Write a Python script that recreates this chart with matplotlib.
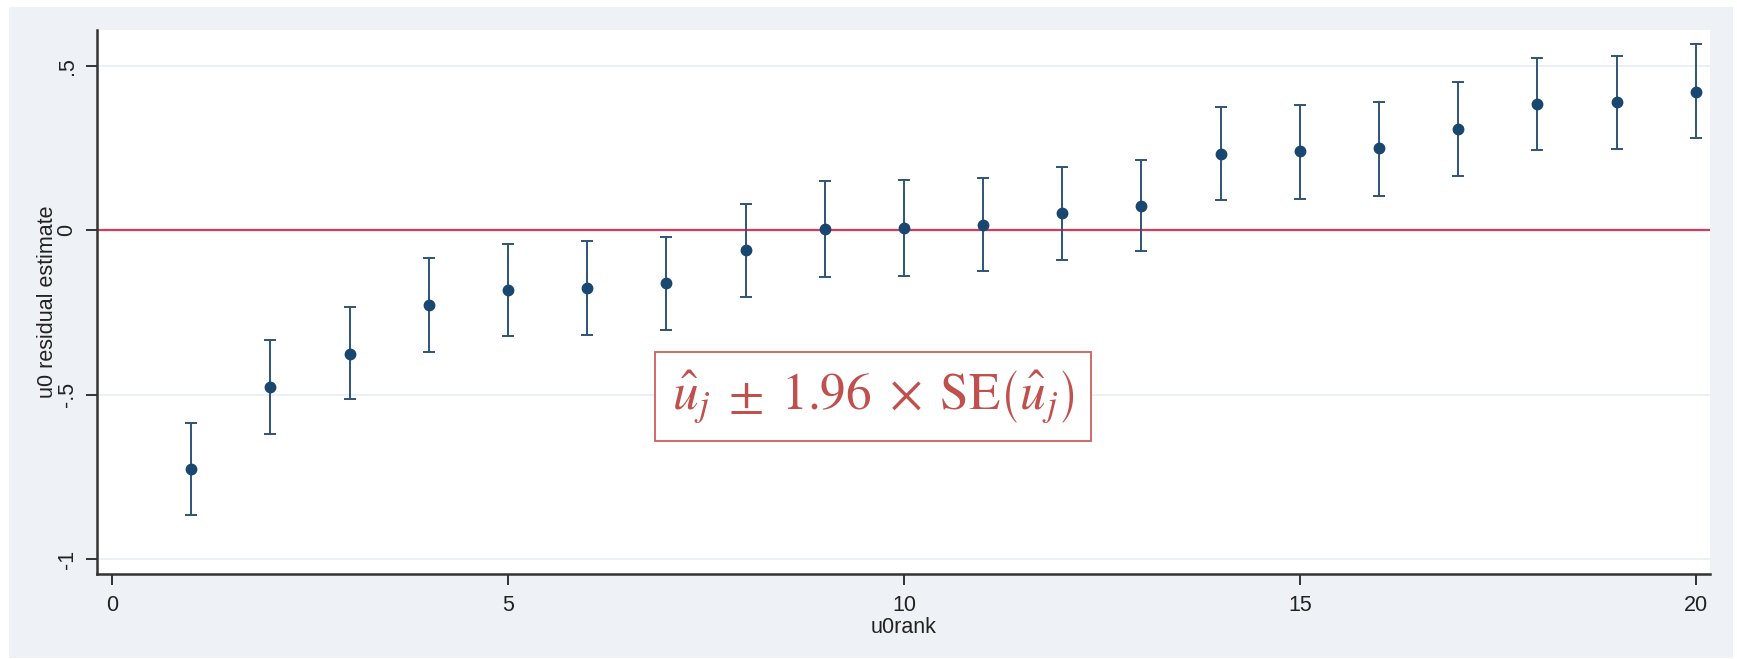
import matplotlib
matplotlib.use("Agg")

import matplotlib.pyplot as plt
from matplotlib.patches import Rectangle
import numpy as np

plt.rcParams["font.family"] = ["Liberation Sans", "DejaVu Sans"]
plt.rcParams["mathtext.fontset"] = "stix"

# u0 residual estimates by rank, with 95% interval ends
u0rank = np.arange(1, 21)
u0_est = [-0.726, -0.477, -0.375, -0.226, -0.182, -0.176, -0.162, -0.061, 0.003, 0.007,
          0.017, 0.051, 0.074, 0.233, 0.240, 0.250, 0.308, 0.384, 0.389, 0.420]
u0_lo = [-0.865, -0.621, -0.514, -0.371, -0.321, -0.318, -0.304, -0.203, -0.142, -0.139,
         -0.125, -0.091, -0.064, 0.091, 0.095, 0.105, 0.164, 0.244, 0.247, 0.279]
u0_hi = [-0.585, -0.333, -0.232, -0.084, -0.041, -0.034, -0.020, 0.081, 0.149, 0.152,
         0.159, 0.193, 0.213, 0.375, 0.382, 0.389, 0.451, 0.525, 0.530, 0.565]

y_ticks = [-1, -0.5, 0, 0.5]
y_ticklabels = ["-1", "-.5", "0", ".5"]
x_ticks = [0, 5, 10, 15, 20]

BG = "#eef1f6"
NAVY = "#1a476f"

fig = plt.figure(figsize=(17.37, 6.59), dpi=100)
fig.patches.append(Rectangle((9 / 1737, 1 / 659), 1724 / 1737, 651 / 659,
                             transform=fig.transFigure, facecolor=BG, edgecolor="none", zorder=-10))
ax = fig.add_axes([97 / 1737, 85 / 659, 1613 / 1737, 544 / 659])
ax.set_zorder(1)
ax.set_facecolor("white")

for y in y_ticks:
    ax.axhline(y, color="#e8eef6", linewidth=1.2, zorder=1)
ax.axhline(0, color="#d43a5c", linewidth=1.6, zorder=2)

est = np.array(u0_est)
yerr = [est - np.array(u0_lo), np.array(u0_hi) - est]
ax.errorbar(u0rank, est, yerr=yerr, fmt="none", ecolor="#2f5479", elinewidth=1.4,
            capsize=4, capthick=1.4, zorder=3)
ax.plot(u0rank, est, "o", color=NAVY, markersize=7.5, zorder=4)

ax.text(9.61, -0.505, r"$\hat{u}_j\;\pm\;1.96\;\times\;\mathrm{SE}\left(\hat{u}_j\right)$",
        ha="center", va="center", fontsize=37, color="#c0504d", zorder=5,
        bbox=dict(boxstyle="square,pad=0.32", facecolor="white", edgecolor="#c9605d", linewidth=1.3))

ax.set_xlim(-0.19, 20.18)
ax.set_ylim(-1.0456, 0.609)
ax.set_xticks(x_ticks)
ax.set_yticks(y_ticks)
ax.set_yticklabels(y_ticklabels, rotation=90, va="center")
ax.tick_params(axis="both", length=8, width=1.4, color="#333333", labelsize=15.5, labelcolor="#222222")
ax.tick_params(axis="x", pad=7)
ax.tick_params(axis="y", pad=6)
for side in ["top", "right"]:
    ax.spines[side].set_visible(False)
for side in ["left", "bottom"]:
    ax.spines[side].set_linewidth(1.8)
    ax.spines[side].set_color("#333333")

ax.set_xlabel("u0rank", fontsize=15.5, color="#222222", labelpad=1)
ax.set_ylabel("u0 residual estimate", fontsize=15.5, color="#222222", labelpad=-1)

plt.savefig("out.png", dpi=100)
plt.close()
